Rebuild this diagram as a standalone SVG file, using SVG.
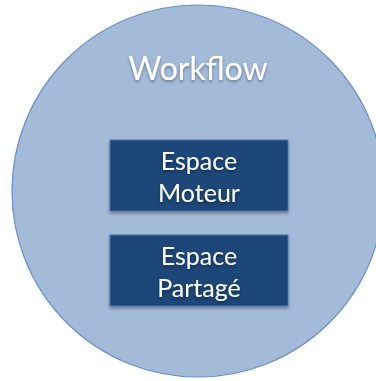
<svg xmlns="http://www.w3.org/2000/svg" width="376" height="381" viewBox="0 0 376 381">
<style>
.t{font-family:Lato,"Open Sans",sans-serif;fill:#ffffff;text-anchor:middle}
.box{fill:#1f4778;stroke:#4a72a8;stroke-width:1}
</style>
<defs>
<filter id="sh" x="-20%" y="-20%" width="140%" height="150%">
<feDropShadow dx="0" dy="2" stdDeviation="1.5" flood-color="#000" flood-opacity="0.35"/>
</filter>
</defs>
<rect width="376" height="381" fill="#ffffff"/>
<g id="workflow">
<circle cx="198" cy="191" r="186" fill="#a4bad9" stroke="#6a8fc6" stroke-width="1.2"/>
<text class="t" x="198" y="80" font-size="32" filter="url(#sh)">Workflow</text>
</g>
<g id="espace-moteur">
<rect class="box" x="110" y="140" width="178" height="71" filter="url(#sh)"/>
<text class="t" x="199" y="170" font-size="25" filter="url(#sh)">Espace</text>
<text class="t" x="199" y="202" font-size="25" filter="url(#sh)">Moteur</text>
</g>
<g id="espace-partage">
<rect class="box" x="110" y="235" width="178" height="71" filter="url(#sh)"/>
<text class="t" x="199" y="265" font-size="25" filter="url(#sh)">Espace</text>
<text class="t" x="199" y="297" font-size="25" filter="url(#sh)">Partagé</text>
</g>
<g id="connectors"/>
</svg>
